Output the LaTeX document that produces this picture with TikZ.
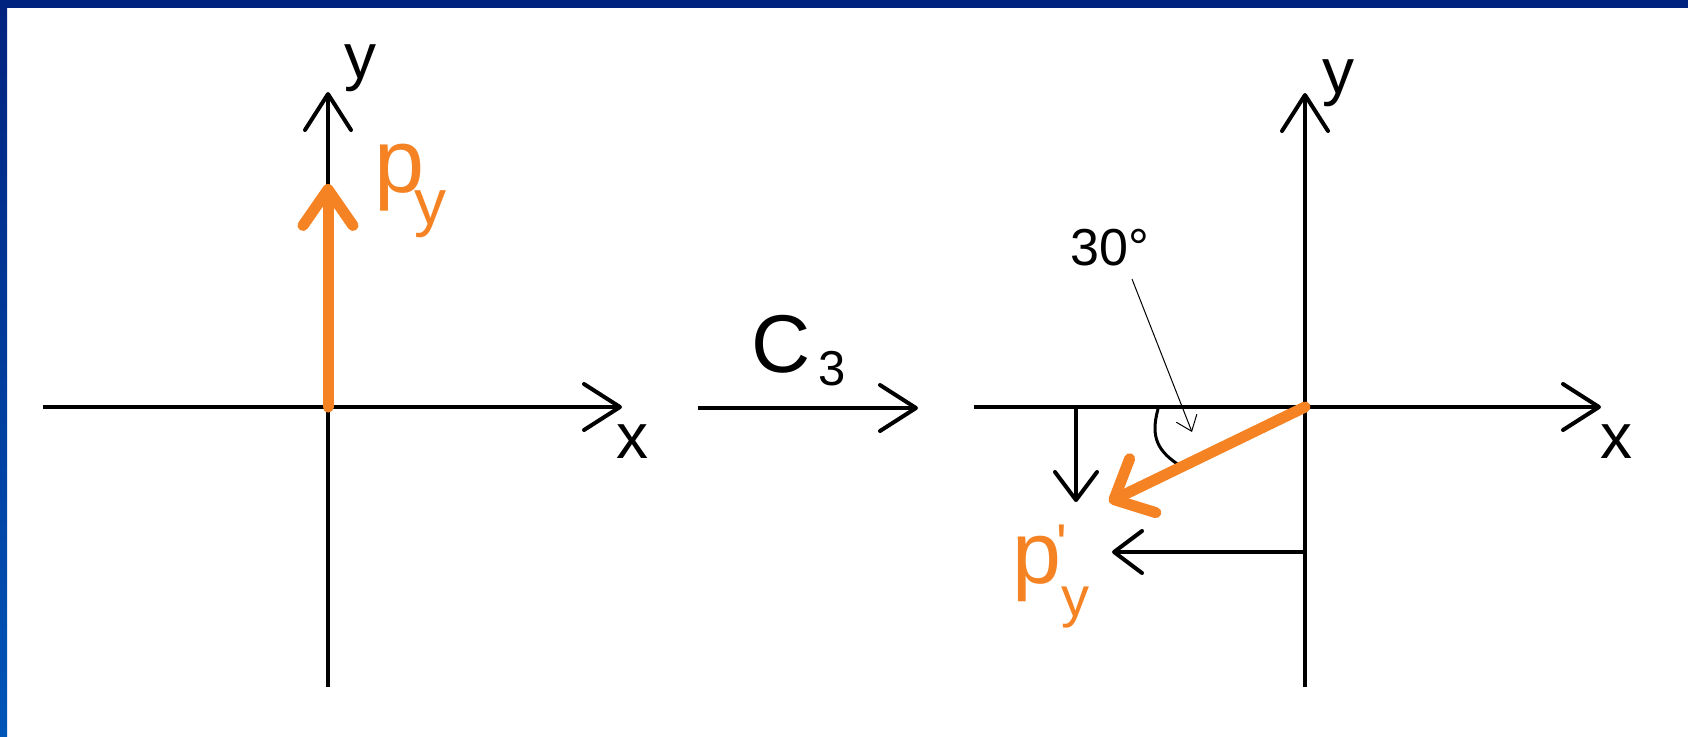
\documentclass[tikz,border=0pt]{standalone}
\usepackage{fontspec}
\setmainfont{Liberation Sans}
\usetikzlibrary{arrows.meta}
\definecolor{orng}{RGB}{245,130,35}
\definecolor{navytop}{RGB}{0,35,128}
\definecolor{navybot}{RGB}{0,85,185}
\font\primefont="Liberation Sans" at 28pt
\begin{document}
\begin{tikzpicture}[x=0.5pt,y=-0.5pt,
  axis/.style={line width=2pt,-{Straight Barb[round,length=18pt,width=23pt]}},
  small/.style={line width=2pt,-{Straight Barb[round,length=14pt,width=21pt]}},
  vec/.style={orng,line width=5.5pt,line cap=round,-{Straight Barb[round,length=18pt,width=25pt]}},
  vecb/.style={orng,line width=5.5pt,line cap=round,-{Straight Barb[round,length=16pt,width=30pt]}},
  thinarr/.style={line width=0.5pt,-{Straight Barb[length=7pt,width=11pt]}},
  lbl/.style={inner sep=0pt,font=\fontsize{32}{32}\selectfont},
]
\useasboundingbox (0,0) rectangle (1688,736);
\fill[white] (0,0) rectangle (1688,736);
\fill[navytop] (0,0) rectangle (1688,8);
\shade[top color=navytop,bottom color=navybot] (0,8) rectangle (7,736);

% left system
\coordinate (O1) at (328,407);
\coordinate (x1a) at (43,407);
\coordinate (x1b) at (622,407);
\coordinate (y1a) at (328,687);
\coordinate (y1b) at (328,92);
\coordinate (p1) at (328,184);
\draw[axis] (x1a) -- (x1b);
\draw[axis] (y1a) -- (y1b);
\draw[vec] (O1) -- (p1);
\node[lbl,anchor=base] (ly1) at (360,78) {y};
\node[lbl,anchor=base] (lx1) at (632,458) {x};
\node[inner sep=0pt,anchor=base west,text=orng] (py) at (374,192)
  {\fontsize{45}{45}\selectfont p\kern-5pt\raisebox{-16pt}{\fontsize{32}{32}\selectfont y}};

% middle operation arrow
\coordinate (m1) at (698,408);
\coordinate (m2) at (918,408);
\draw[axis] (m1) -- (m2);
\node[inner sep=0pt,anchor=base west] (c3) at (751,372)
  {\fontsize{41}{41}\selectfont C\kern4pt\raisebox{-6.5pt}{\fontsize{24.5}{24.5}\selectfont 3}};

% right system
\coordinate (O2) at (1305,407);
\coordinate (x2a) at (974,407);
\coordinate (x2b) at (1601,407);
\coordinate (y2a) at (1305,687);
\coordinate (y2b) at (1305,93);
\coordinate (p2) at (1109,502);
\coordinate (d1) at (1076,407);
\coordinate (d2) at (1076,502);
\coordinate (h1) at (1305,552);
\coordinate (h2) at (1112,552);
\coordinate (t1) at (1132,279);
\coordinate (t2) at (1192,432);
\draw[axis] (x2a) -- (x2b);
\draw[axis] (y2a) -- (y2b);
\draw[small] (d1) -- (d2);
\draw[small] (h1) -- (h2);
\draw[line width=1.5pt,line cap=round] (1158,409) .. controls (1150,438) and (1158,452) .. (1182,467);
\draw[thinarr] (t1) -- (t2);
\draw[vecb] (O2) -- (p2);
\node[lbl,anchor=base] (ly2) at (1338,93) {y};
\node[lbl,anchor=base] (lx2) at (1616,458) {x};
\node[inner sep=0pt,anchor=base] (deg) at (1110,265) {\fontsize{26}{26}\selectfont 30°};
\node[inner sep=0pt,anchor=base west,text=orng] (py2) at (1012,583)
  {\fontsize{44}{44}\selectfont p\rlap{\kern-2.25pt\raisebox{10pt}{\primefont '}}\raisebox{-16.5pt}{\fontsize{28}{28}\selectfont y}};
\end{tikzpicture}
\end{document}
